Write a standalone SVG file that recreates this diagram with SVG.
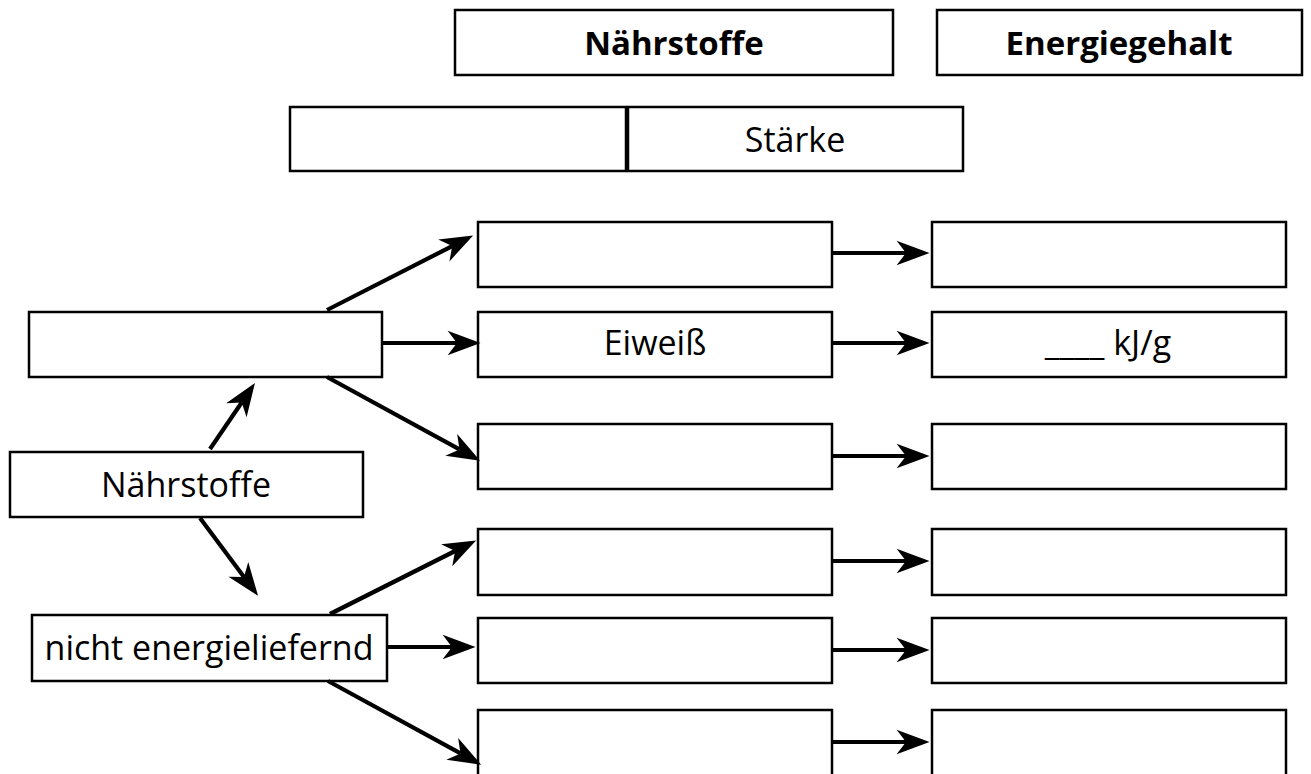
<svg xmlns="http://www.w3.org/2000/svg" width="1311" height="774" viewBox="0 0 1311 774">
<style>
.box{fill:#fff;stroke:#000;stroke-width:2.5}
.t{font-family:"Open Sans","Noto Sans","Liberation Sans",sans-serif;font-size:34px;fill:#000;text-anchor:middle}
.b{font-weight:bold;font-size:33px}
.arr{stroke:#000;stroke-width:4.2;fill:none;marker-end:url(#ah)}
</style>
<defs>
<marker id="ah" markerUnits="userSpaceOnUse" markerWidth="40" markerHeight="30" viewBox="-10 -12 34 24" refX="0" refY="0" orient="auto" overflow="visible">
<path d="M20,0 L-8,-10.5 L0,0 L-8,10.5 Z" fill="#000"/>
</marker>
</defs>
<rect width="1311" height="774" fill="#fff"/>
<g id="hdr-naehrstoffe"><rect class="box" x="455" y="10" width="438" height="65"/><text class="t b" x="674" y="55">Nährstoffe</text></g>
<g id="hdr-energiegehalt"><rect class="box" x="937" y="10" width="365" height="65"/><text class="t b" x="1119" y="55">Energiegehalt</text></g>
<g id="top-left"><rect class="box" x="290" y="107" width="336" height="64"/></g>
<g id="top-staerke"><rect class="box" x="628" y="107" width="335" height="64"/><text class="t" x="795" y="152">Stärke</text></g>
<g id="energy"><rect class="box" x="29" y="312" width="353" height="65"/></g>
<g id="naehrstoffe"><rect class="box" x="10" y="452" width="353" height="65"/><text class="t" x="186" y="497">Nährstoffe</text></g>
<g id="nicht"><rect class="box" x="32" y="615" width="355" height="66"/><text class="t" x="209" y="660">nicht energieliefernd</text></g>
<g id="m1"><rect class="box" x="478" y="222" width="354" height="65"/></g>
<g id="m2"><rect class="box" x="478" y="312" width="354" height="65"/><text class="t" x="655" y="355">Eiweiß</text></g>
<g id="m3"><rect class="box" x="478" y="424" width="354" height="65"/></g>
<g id="m4"><rect class="box" x="478" y="529" width="354" height="66"/></g>
<g id="m5"><rect class="box" x="478" y="618" width="354" height="65"/></g>
<g id="m6"><rect class="box" x="478" y="710" width="354" height="70"/></g>
<g id="r1"><rect class="box" x="932" y="222" width="354" height="65"/></g>
<g id="r2"><rect class="box" x="932" y="312" width="354" height="65"/><text class="t" x="1108" y="355">____ kJ/g</text></g>
<g id="r3"><rect class="box" x="932" y="424" width="354" height="65"/></g>
<g id="r4"><rect class="box" x="932" y="529" width="354" height="66"/></g>
<g id="r5"><rect class="box" x="932" y="618" width="354" height="65"/></g>
<g id="r6"><rect class="box" x="932" y="710" width="354" height="70"/></g>
<g id="connectors">
<line class="arr" x1="210" y1="449" x2="241.7" y2="402.5"/>
<line class="arr" x1="200" y1="518" x2="244" y2="577"/>
<line class="arr" x1="327" y1="310" x2="452.2" y2="246.1"/>
<line class="arr" x1="382" y1="343" x2="457" y2="343"/>
<line class="arr" x1="327" y1="377" x2="459.5" y2="449.4"/>
<line class="arr" x1="330" y1="614" x2="455.1" y2="551"/>
<line class="arr" x1="387" y1="647" x2="452" y2="647"/>
<line class="arr" x1="328" y1="681" x2="460.5" y2="753.4"/>
<line class="arr" x1="832" y1="253" x2="906" y2="253"/>
<line class="arr" x1="832" y1="343" x2="906" y2="343"/>
<line class="arr" x1="832" y1="456" x2="906" y2="456"/>
<line class="arr" x1="832" y1="561" x2="906" y2="561"/>
<line class="arr" x1="832" y1="650" x2="906" y2="650"/>
<line class="arr" x1="832" y1="742" x2="906" y2="742"/>
</g>
</svg>
